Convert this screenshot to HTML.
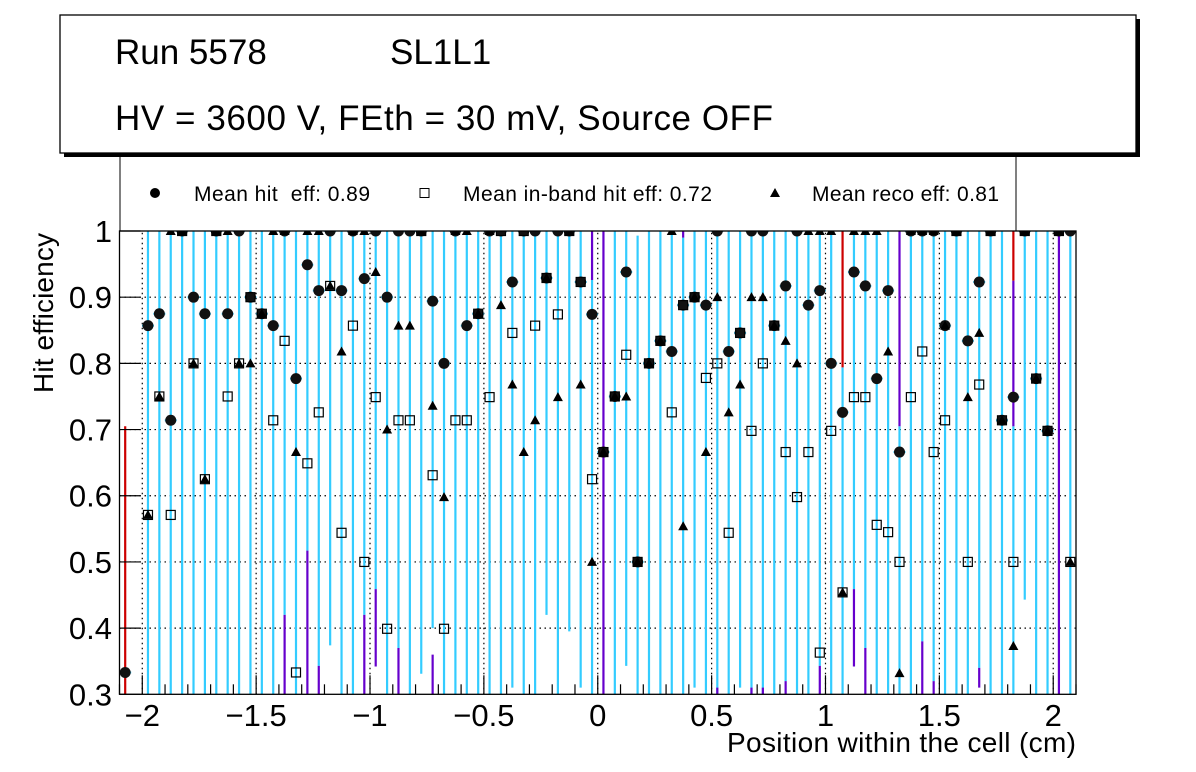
<!DOCTYPE html>
<html><head><meta charset="utf-8"><style>
html,body{margin:0;padding:0;background:#fff;}
svg{display:block;font-family:"Liberation Sans",Arial,sans-serif;}
</style></head><body>
<svg id="chart" width="1196" height="772" viewBox="0 0 1196 772" xmlns="http://www.w3.org/2000/svg">
<defs><clipPath id="plotclip"><rect x="119.5" y="231" width="956.5" height="463.3"/></clipPath></defs>
<rect x="0" y="0" width="1196" height="772" fill="#fff"/>
<g id="grid"></g>
<g id="errs" clip-path="url(#plotclip)"></g>
<g id="marks" clip-path="url(#plotclip)"></g>
<g id="axes"></g>
<rect x="119.5" y="231" width="956.5" height="463.3" fill="none" stroke="#000" stroke-width="1.3"/>
<text transform="translate(53,313) rotate(-90)" text-anchor="middle" font-size="28" textLength="160">Hit efficiency</text>
<text x="1076" y="752" text-anchor="end" font-size="28" textLength="349">Position within the cell (cm)</text>
<g>
<line x1="120" y1="154" x2="120" y2="231" stroke="#000" stroke-width="1"/>
<line x1="1016" y1="154" x2="1016" y2="231" stroke="#000" stroke-width="1"/>
<circle cx="155" cy="193" r="5" fill="#000"/>
<text x="194" y="201" font-size="21" textLength="176">Mean hit&#160; eff: 0.89</text>
<rect x="420" y="188.5" width="9" height="9" fill="none" stroke="#000"/>
<text x="463" y="201" font-size="21" textLength="249">Mean in-band hit eff: 0.72</text>
<path d="M775,188 L780,197 L770,197 Z" fill="#000"/>
<text x="812" y="201" font-size="21" textLength="187">Mean reco eff: 0.81</text>
</g>
<g>
<rect x="64" y="19" width="1076" height="138" fill="#000"/>
<rect x="60" y="15" width="1076" height="138" fill="#fff" stroke="#000" stroke-width="1.3"/>
<text x="115" y="64" font-size="35">Run 5578</text>
<text x="390" y="64" font-size="35">SL1L1</text>
<text x="115" y="130" font-size="35" textLength="658">HV = 3600 V, FEth = 30 mV, Source OFF</text>
</g>
</svg>
<script>
const binCenters = [];
for (let k = 0; k < 84; k++) binCenters.push(-2.075 + 0.05 * k);
const hitEff = [0.333,null,0.857,0.875,0.714,1,0.9,0.875,1,0.875,1,0.9,0.875,0.857,1,0.777,0.949,0.91,1,0.91,1,0.928,1,0.9,1,1,1,0.894,0.8,1,0.857,0.875,1,1,0.923,1,1,0.929,1,1,0.923,0.874,0.666,0.75,0.938,0.5,0.8,0.834,0.818,0.888,0.9,0.888,1,0.818,0.846,1,1,0.857,0.917,1,0.888,0.91,0.8,0.726,0.938,0.917,0.777,0.91,0.666,1,1,1,0.857,1,0.834,0.923,1,0.714,0.749,1,0.777,0.698,1,1];
const inbandEff = [null,null,0.571,0.75,0.571,1,0.8,0.625,1,0.75,0.8,0.9,0.875,0.714,0.834,0.333,0.649,0.726,0.917,0.544,0.857,0.5,0.749,0.399,0.714,0.714,1,0.631,0.399,0.714,0.714,0.875,0.749,1,0.846,1,0.857,0.929,0.874,1,0.923,0.625,0.666,0.75,0.813,0.5,0.8,0.834,0.726,0.888,0.9,0.778,0.8,0.544,0.846,0.698,0.8,0.857,0.666,0.598,0.666,0.363,0.698,0.454,0.749,0.749,0.556,0.545,0.5,0.749,0.818,0.666,0.714,1,0.5,0.768,1,0.714,0.5,1,0.777,0.698,1,0.5];
const recoEff = [null,null,0.571,0.75,1,1,0.8,0.625,1,1,0.8,0.8,0.875,1,1,0.666,1,1,0.917,0.818,1,1,0.938,0.7,0.857,0.857,1,0.736,0.598,1,1,0.875,1,0.888,0.768,0.666,0.714,0.929,0.749,1,0.768,0.5,0.666,0.75,0.75,0.5,0.8,0.834,1,0.554,0.9,0.666,0.9,0.726,0.768,0.9,0.9,0.857,0.834,0.8,1,1,1,0.454,1,1,1,0.818,0.332,1,1,1,0.857,1,0.749,0.846,1,0.714,0.373,1,0.777,0.698,1,0.5];
const cyanLow = [null,null,0.3,0.3,0.3,0.3,0.3,0.3,0.3,0.3,0.3,0.3,0.3,0.3,0.42,0.3,0.517,0.343,0.374,0.3,0.3,0.42,0.459,0.3,0.37,0.3,0.331,0.4,0.3,0.3,0.3,0.3,0.3,0.3,0.31,0.3,0.3,0.42,0.3,0.395,0.31,0.3,null,0.3,0.343,0.3,0.3,0.3,0.3,0.3,0.31,0.3,0.3,0.3,0.31,0.3,0.3,0.3,0.32,0.3,0.3,0.343,0.3,0.3,0.459,0.37,0.3,0.3,0.3,0.3,0.38,0.32,0.3,0.3,0.3,0.34,0.3,0.3,0.3,0.443,0.3,0.3,null,0.3];
const cyanHigh = [null,null,1,1,1,1,1,1,1,1,1,1,1,1,1,1,1,1,1,1,1,1,1,1,1,1,1,1,1,1,1,1,1,1,1,1,1,1,1,1,1,0.926,null,1,1,0.993,1,1,1,0.99,1,1,1,1,1,1,1,1,1,1,1,1,1,0.794,1,1,1,1,0.705,1,1,1,1,1,1,1,1,1,0.705,1,1,1,null,1];
const purpleLow = [null,null,null,null,null,null,null,null,null,null,null,null,null,null,0.3,null,0.3,0.3,null,null,null,0.3,0.342,null,0.3,null,null,0.3,null,null,null,null,null,null,null,null,null,null,null,null,null,0.926,0.3,null,null,null,null,null,null,0.99,null,null,0.3,null,null,0.3,0.3,null,0.3,null,null,0.3,null,null,0.342,0.3,null,null,0.705,null,0.3,0.3,null,null,null,0.31,null,null,0.705,null,null,null,0.3,null];
const purpleHigh = [null,null,null,null,null,null,null,null,null,null,null,null,null,null,0.42,null,0.517,0.343,null,null,null,0.42,0.459,null,0.37,null,null,0.36,null,null,null,null,null,null,null,null,null,null,null,null,null,1,1,null,null,null,null,null,null,1,null,null,0.31,null,null,0.31,0.31,null,0.32,null,null,0.343,null,null,0.459,0.37,null,null,1,null,0.38,0.32,null,null,null,0.34,null,null,0.925,null,null,null,1,null];
const redLow = {0:0.3, 63:0.794, 78:0.925};
const redHigh = {0:0.705, 63:1, 78:1};
const xTicks = [-2,-1.5,-1,-0.5,0,0.5,1,1.5,2];
const xTickLabels = ["\u22122","\u22121.5","\u22121","\u22120.5","0","0.5","1","1.5","2"];
const yTicks = [0.3,0.4,0.5,0.6,0.7,0.8,0.9,1];
const yTickLabels = ["0.3","0.4","0.5","0.6","0.7","0.8","0.9","1"];

const X0=119.5, X1=1076, Y0=694.3, Y1=231;
const sx = v => X0 + (v + 2.1) / 4.2 * (X1 - X0);
const sy = v => Y0 - (v - 0.3) / 0.7 * (Y0 - Y1);
const NS="http://www.w3.org/2000/svg";
function mk(tag, attrs, parent){const e=document.createElementNS(NS,tag);for(const k in attrs)e.setAttribute(k,attrs[k]);parent.appendChild(e);return e;}
const grid=document.getElementById('grid'), errs=document.getElementById('errs'), marks=document.getElementById('marks'), axes=document.getElementById('axes');

yTicks.forEach((t,i)=>{
  const y=sy(t);
  if(t>0.3&&t<1){const g=mk('line',{x1:X0,x2:X1,y1:y,y2:y,stroke:'#000','stroke-width':1.2,'stroke-dasharray':'1.5,3.5'},grid);
  
  }
  const tk=mk('line',{x1:X0,x2:X0+21,y1:y,y2:y,stroke:'#000','stroke-width':1.2},axes);
  
  
  const lb=mk('text',{x:112,y:y+11,'text-anchor':'end','font-size':31},axes);
  lb.textContent=yTickLabels[i];
  
  
});
for(let v=-2.1; v<=2.1001; v+=0.1){
  const x=sx(v); const major=Math.abs(Math.round(v*2)-v*2)<1e-6;
  const tk=mk('line',{x1:x,x2:x,y1:Y0,y2:Y0-(major?19:10),stroke:'#000','stroke-width':1.2},axes);
  
  
}
xTicks.forEach((t,i)=>{
  const x=sx(t);
  const g=mk('line',{x1:x,x2:x,y1:Y0,y2:Y1,stroke:'#000','stroke-width':1.2,'stroke-dasharray':'1.5,3.5'},grid);
  
  
  const lb=mk('text',{x:x,y:726,'text-anchor':'middle','font-size':31},axes);
  lb.textContent=xTickLabels[i];
  
  
});

binCenters.forEach((c,k)=>{
  const x=sx(c);
  if(cyanLow[k]!==null){
    const l=mk('line',{x1:x,x2:x,y1:sy(cyanLow[k]),y2:sy(cyanHigh[k]),stroke:'#33ccff','stroke-width':2.2},errs);
    
    
  }
  if(purpleLow[k]!==null){
    const l=mk('line',{x1:x,x2:x,y1:sy(purpleLow[k]),y2:sy(purpleHigh[k]),stroke:'#6600cc','stroke-width':2.2},errs);
    
    
  }
  if(redLow[k]!==undefined){
    const l=mk('line',{x1:x,x2:x,y1:sy(redLow[k]),y2:sy(redHigh[k]),stroke:'#cc0000','stroke-width':2.2},errs);
    
    
  }
});
binCenters.forEach((c,k)=>{
  const x=sx(c);
  if(hitEff[k]!==null){
    const y=sy(hitEff[k]);
    const h=mk('line',{x1:x-6,x2:x+6,y1:y,y2:y,stroke:'#33ccff','stroke-width':2},marks);
    
    
    const m=mk('circle',{cx:x,cy:y,r:5.5,fill:'#111'},marks);
    
    
  }
  if(inbandEff[k]!==null){
    const y=sy(inbandEff[k]);
    const m=mk('rect',{x:x-4.5,y:y-4.5,width:9,height:9,fill:'none',stroke:'#000','stroke-width':1.2},marks);
    
    
  }
  if(recoEff[k]!==null){
    const y=sy(recoEff[k]);
    const m=mk('path',{d:`M${x},${y-5} L${x+5},${y+4} L${x-5},${y+4} Z`,fill:'#000'},marks);
    
    
  }
});
</script>
</body></html>
